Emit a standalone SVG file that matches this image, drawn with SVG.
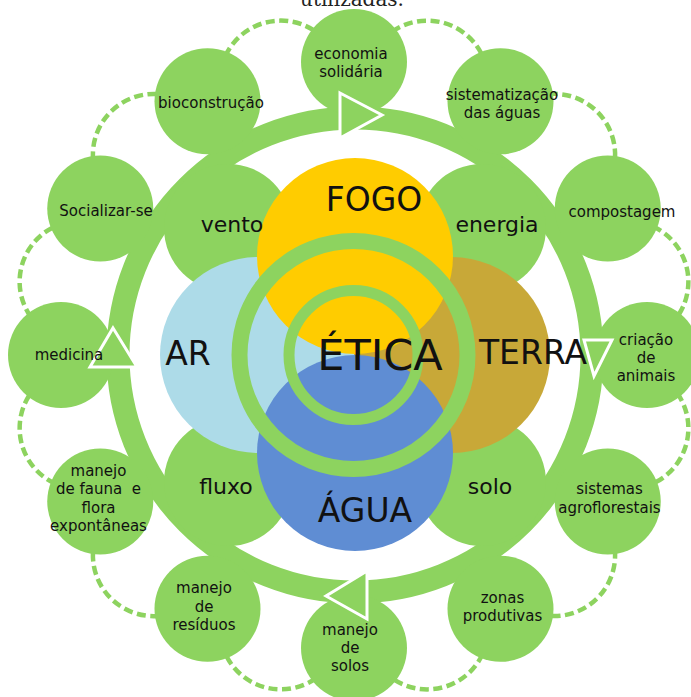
<svg xmlns="http://www.w3.org/2000/svg" xmlns:xlink="http://www.w3.org/1999/xlink" width="691" height="697" viewBox="0 0 691 697">
  <style>
    .leaf { fill: #8DD35F; }
    .ring { fill: none; stroke: #8DD35F; }
    .dash { fill: none; stroke: #8DD35F; stroke-width: 4.5; stroke-dasharray: 9 4.5; }
    .arrow { fill: #8DD35F; stroke: #FFFFFF; stroke-width: 3; stroke-linejoin: miter; }
    .lbl { font-family: "DejaVu Sans", "Liberation Sans", sans-serif; font-size: 15px; fill: #111; text-anchor: middle; }
    .mid { font-size: 22px; }
    .big { font-size: 33px; }
    .huge { font-size: 43px; }
    .caption { font-family: "DejaVu Serif", "Liberation Serif", serif; font-size: 20px; fill: #222; text-anchor: middle; }
  </style>
  <defs>
    <!-- dashed link between two neighbouring outer circles (the 0°..30° gap), rotated for the others -->
    <path id="link" class="dash" d="M392.26,31.65 A61,61 0 0 1 482.53,55.84"/>
  </defs>

  <rect width="691" height="697" fill="#FFFFFF"/>

  <!-- tail of the caption line above -->
  <text class="caption" x="352" y="5.5">utilizadas.</text>

  <!-- connectors: dashed links between outer circles and the main cycle ring -->
  <g id="connectors">
    <use xlink:href="#link"/>
    <use xlink:href="#link" transform="rotate(30 354 355)"/>
    <use xlink:href="#link" transform="rotate(60 354 355)"/>
    <use xlink:href="#link" transform="rotate(90 354 355)"/>
    <use xlink:href="#link" transform="rotate(120 354 355)"/>
    <use xlink:href="#link" transform="rotate(150 354 355)"/>
    <use xlink:href="#link" transform="rotate(180 354 355)"/>
    <use xlink:href="#link" transform="rotate(210 354 355)"/>
    <use xlink:href="#link" transform="rotate(240 354 355)"/>
    <use xlink:href="#link" transform="rotate(270 354 355)"/>
    <use xlink:href="#link" transform="rotate(300 354 355)"/>
    <use xlink:href="#link" transform="rotate(330 354 355)"/>
    <circle class="ring" cx="355" cy="355" r="237" stroke-width="23"/>
  </g>

  <!-- outer practice circles -->
  <g id="economia-solidaria"><circle class="leaf" cx="354" cy="62" r="53"/></g>
  <g id="sistematizacao-aguas"><circle class="leaf" cx="500.5" cy="101.25" r="53"/></g>
  <g id="compostagem"><circle class="leaf" cx="607.75" cy="208.5" r="53"/></g>
  <g id="criacao-animais"><circle class="leaf" cx="647" cy="355" r="53"/></g>
  <g id="sistemas-agroflorestais"><circle class="leaf" cx="607.75" cy="501.5" r="53"/></g>
  <g id="zonas-produtivas"><circle class="leaf" cx="500.5" cy="608.75" r="53"/></g>
  <g id="manejo-solos"><circle class="leaf" cx="354" cy="648" r="53"/></g>
  <g id="manejo-residuos"><circle class="leaf" cx="207.5" cy="608.75" r="53"/></g>
  <g id="manejo-fauna-flora"><circle class="leaf" cx="100.25" cy="501.5" r="53"/></g>
  <g id="medicina"><circle class="leaf" cx="61" cy="355" r="53"/></g>
  <g id="socializar-se"><circle class="leaf" cx="100.25" cy="208.5" r="53"/></g>
  <g id="bioconstrucao"><circle class="leaf" cx="207.5" cy="101.25" r="53"/></g>

  <!-- direction marks on the cycle ring -->
  <g id="ring-arrows">
    <polygon class="arrow" points="340,93 382,115 340,138"/>
    <polygon class="arrow" points="584,340 612,340 594,376"/>
    <polygon class="arrow" points="367,571 326,596 367,619"/>
    <polygon class="arrow" points="113,328 137,367 90,367"/>
  </g>

  <!-- inner aspect circles -->
  <g id="vento"><circle class="leaf" cx="228" cy="228" r="64"/></g>
  <g id="energia"><circle class="leaf" cx="482" cy="228" r="64"/></g>
  <g id="fluxo"><circle class="leaf" cx="228" cy="482" r="64"/></g>
  <g id="solo"><circle class="leaf" cx="482" cy="482" r="64"/></g>

  <!-- the four elements -->
  <g id="ar"><circle cx="258" cy="355" r="98" fill="#ADDBE8"/></g>
  <g id="terra"><circle cx="452" cy="355" r="98" fill="#C8A838"/></g>
  <g id="fogo"><circle cx="355" cy="256" r="98" fill="#FFCC00"/></g>
  <g id="agua"><circle cx="355" cy="453" r="98" fill="#5F8DD3"/></g>

  <!-- ethics rings in the centre -->
  <g id="etica">
    <circle class="ring" cx="353.5" cy="355" r="114" stroke-width="16"/>
    <circle class="ring" cx="353.5" cy="355" r="64.5" stroke-width="11"/>
  </g>

  <!-- labels -->
  <g id="labels">
    <text class="lbl" x="351" y="59">economia</text>
    <text class="lbl" x="351" y="77">solidária</text>
    <text class="lbl" x="502" y="100">sistematização</text>
    <text class="lbl" x="502" y="118">das águas</text>
    <text class="lbl" x="622" y="217">compostagem</text>
    <text class="lbl" x="646" y="345">criação</text>
    <text class="lbl" x="646" y="363">de</text>
    <text class="lbl" x="646" y="381">animais</text>
    <text class="lbl" x="609.5" y="494">sistemas</text>
    <text class="lbl" x="609.5" y="513">agroflorestais</text>
    <text class="lbl" x="502.5" y="603">zonas</text>
    <text class="lbl" x="502.5" y="621">produtivas</text>
    <text class="lbl" x="350" y="635">manejo</text>
    <text class="lbl" x="350" y="653">de</text>
    <text class="lbl" x="350" y="671">solos</text>
    <text class="lbl" x="204" y="593">manejo</text>
    <text class="lbl" x="204" y="612">de</text>
    <text class="lbl" x="204" y="630">resíduos</text>
    <text class="lbl" x="98.5" y="476">manejo</text>
    <text class="lbl" x="98.5" y="494" style="white-space:pre">de fauna  e</text>
    <text class="lbl" x="98.5" y="513">flora</text>
    <text class="lbl" x="98.5" y="531">expontâneas</text>
    <text class="lbl" x="69" y="360">medicina</text>
    <text class="lbl" x="106" y="216">Socializar-se</text>
    <text class="lbl" x="211" y="108">bioconstrução</text>

    <text class="lbl mid" x="232" y="232">vento</text>
    <text class="lbl mid" x="497" y="232">energia</text>
    <text class="lbl mid" x="226" y="494">fluxo</text>
    <text class="lbl mid" x="490" y="494">solo</text>

    <text class="lbl big" x="374" y="211">FOGO</text>
    <text class="lbl big" x="188" y="365">AR</text>
    <text class="lbl big" x="533" y="364">TERRA</text>
    <text class="lbl big" x="365" y="522">ÁGUA</text>
    <text class="lbl huge" x="380" y="370">ÉTICA</text>
  </g>
</svg>
